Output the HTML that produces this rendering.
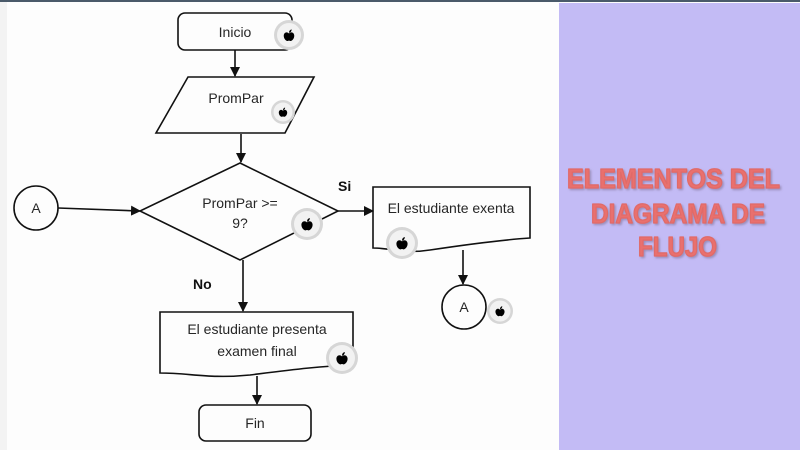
<!DOCTYPE html>
<html><head><meta charset="utf-8"><style>
html,body{margin:0;padding:0;width:800px;height:450px;overflow:hidden;background:#fdfdfd;}
svg{display:block;}
.t{font-family:"Liberation Sans",sans-serif;fill:#262626;font-size:14px;}
.b{font-family:"Liberation Sans",sans-serif;fill:#111;font-size:14px;font-weight:bold;}
.h{font-family:"Liberation Sans",sans-serif;font-weight:bold;font-size:28px;fill:#e9706e;stroke:#e06a68;stroke-width:1.3;stroke-linejoin:round;}
</style></head><body>
<svg width="800" height="450" viewBox="0 0 800 450" xmlns="http://www.w3.org/2000/svg">
<defs>
<marker id="ar" markerWidth="10" markerHeight="10" refX="9" refY="5" orient="auto" markerUnits="userSpaceOnUse">
<path d="M0,0 L10,5 L0,10 Z" fill="#111"/>
</marker>
<filter id="sh" x="-10%" y="-10%" width="120%" height="130%">
<feDropShadow dx="1.5" dy="1.5" stdDeviation="1" flood-color="#7a6a8a" flood-opacity="0.55"/>
</filter>
</defs>
<rect x="0" y="0" width="800" height="450" fill="#fdfdfd"/>
<rect x="0" y="0" width="7" height="450" fill="#f3f3f3"/>
<rect x="0" y="0" width="800" height="2" fill="#4a5a6a"/>
<rect x="559" y="3" width="241" height="447" fill="#c3bbf5"/>

<g fill="none" stroke="#111" stroke-width="1.6">
<rect x="178" y="13" width="114" height="37" rx="7"/>
<line x1="235" y1="50" x2="235" y2="76" marker-end="url(#ar)"/>
<polygon points="188,77 314,77 285,133 156,133"/>
<line x1="241" y1="134" x2="241" y2="162" marker-end="url(#ar)"/>
<polygon points="240,163 338,211 240,260 140,211"/>
<circle cx="36" cy="208" r="22"/>
<line x1="58" y1="208" x2="140" y2="211" marker-end="url(#ar)"/>
<line x1="338" y1="211" x2="373" y2="211" marker-end="url(#ar)"/>
<path d="M373,187 L530,187 L530,238 C500,240 470,244 430,250 C405,254 390,248 373,248 Z"/>
<line x1="463" y1="250" x2="463" y2="284" marker-end="url(#ar)"/>
<circle cx="464" cy="307" r="22"/>
<line x1="243" y1="260" x2="243" y2="311" marker-end="url(#ar)"/>
<path d="M160,312 L353,312 L353,365 C320,366 290,370 250,375 C210,379 190,373 160,373 Z"/>
<line x1="257" y1="376" x2="257" y2="404" marker-end="url(#ar)"/>
<rect x="199" y="405" width="112" height="36" rx="7"/>
</g>

<text class="t" x="235" y="37" text-anchor="middle">Inicio</text>
<text class="t" x="236" y="103" text-anchor="middle" font-size="13.5">PromPar</text>
<text class="t" x="240" y="208" text-anchor="middle" font-size="12">PromPar &gt;=</text>
<text class="t" x="240" y="228" text-anchor="middle" font-size="12">9?</text>
<text class="t" x="36" y="213" text-anchor="middle" font-size="15">A</text>
<text class="t" x="464" y="312" text-anchor="middle" font-size="15">A</text>
<text class="t" x="451" y="213" text-anchor="middle">El estudiante exenta</text>
<text class="t" x="257" y="334" text-anchor="middle">El estudiante presenta</text>
<text class="t" x="257" y="356" text-anchor="middle">examen final</text>
<text class="t" x="255" y="428" text-anchor="middle">Fin</text>
<text class="b" x="338" y="191">Si</text>
<text class="b" x="193" y="289">No</text>

<g transform="translate(289,35)"><circle r="15" fill="#d6d6d6"/><circle r="12" fill="#f2f2f2"/><g transform="scale(0.75)"><path d="M0,-2 C-3,-5 -7,-3 -7,1 C-7,5 -4,8 -2,8 C-1,8 -1,7.5 0,7.5 C1,7.5 1,8 2,8 C4,8 7,5 7,1 C7,-3 3,-5 0,-2 Z" fill="#000"/><path d="M0,-3 C0,-6 2,-7 3.5,-7.5 C3.5,-5 2,-3 0,-3 Z" fill="#000"/></g></g>
<g transform="translate(283,112)"><circle r="12" fill="#d6d6d6"/><circle r="9.5" fill="#f2f2f2"/><g transform="scale(0.6)"><path d="M0,-2 C-3,-5 -7,-3 -7,1 C-7,5 -4,8 -2,8 C-1,8 -1,7.5 0,7.5 C1,7.5 1,8 2,8 C4,8 7,5 7,1 C7,-3 3,-5 0,-2 Z" fill="#000"/><path d="M0,-3 C0,-6 2,-7 3.5,-7.5 C3.5,-5 2,-3 0,-3 Z" fill="#000"/></g></g>
<g transform="translate(307,224)"><circle r="16" fill="#d6d6d6"/><circle r="13" fill="#f2f2f2"/><g transform="scale(0.8)"><path d="M0,-2 C-3,-5 -7,-3 -7,1 C-7,5 -4,8 -2,8 C-1,8 -1,7.5 0,7.5 C1,7.5 1,8 2,8 C4,8 7,5 7,1 C7,-3 3,-5 0,-2 Z" fill="#000"/><path d="M0,-3 C0,-6 2,-7 3.5,-7.5 C3.5,-5 2,-3 0,-3 Z" fill="#000"/></g></g>
<g transform="translate(402,243)"><circle r="16" fill="#d6d6d6"/><circle r="13" fill="#f2f2f2"/><g transform="scale(0.8)"><path d="M0,-2 C-3,-5 -7,-3 -7,1 C-7,5 -4,8 -2,8 C-1,8 -1,7.5 0,7.5 C1,7.5 1,8 2,8 C4,8 7,5 7,1 C7,-3 3,-5 0,-2 Z" fill="#000"/><path d="M0,-3 C0,-6 2,-7 3.5,-7.5 C3.5,-5 2,-3 0,-3 Z" fill="#000"/></g></g>
<g transform="translate(500,311)"><circle r="13" fill="#d6d6d6"/><circle r="10.5" fill="#f2f2f2"/><g transform="scale(0.65)"><path d="M0,-2 C-3,-5 -7,-3 -7,1 C-7,5 -4,8 -2,8 C-1,8 -1,7.5 0,7.5 C1,7.5 1,8 2,8 C4,8 7,5 7,1 C7,-3 3,-5 0,-2 Z" fill="#000"/><path d="M0,-3 C0,-6 2,-7 3.5,-7.5 C3.5,-5 2,-3 0,-3 Z" fill="#000"/></g></g>
<g transform="translate(342,358)"><circle r="16" fill="#d6d6d6"/><circle r="13" fill="#f2f2f2"/><g transform="scale(0.8)"><path d="M0,-2 C-3,-5 -7,-3 -7,1 C-7,5 -4,8 -2,8 C-1,8 -1,7.5 0,7.5 C1,7.5 1,8 2,8 C4,8 7,5 7,1 C7,-3 3,-5 0,-2 Z" fill="#000"/><path d="M0,-3 C0,-6 2,-7 3.5,-7.5 C3.5,-5 2,-3 0,-3 Z" fill="#000"/></g></g>

<g filter="url(#sh)">
<text class="h" x="567" y="188" textLength="213" lengthAdjust="spacingAndGlyphs">ELEMENTOS DEL</text>
<text class="h" x="591" y="223" textLength="174" lengthAdjust="spacingAndGlyphs">DIAGRAMA DE</text>
<text class="h" x="638" y="256" textLength="79" lengthAdjust="spacingAndGlyphs">FLUJO</text>
</g>
</svg>
</body></html>
